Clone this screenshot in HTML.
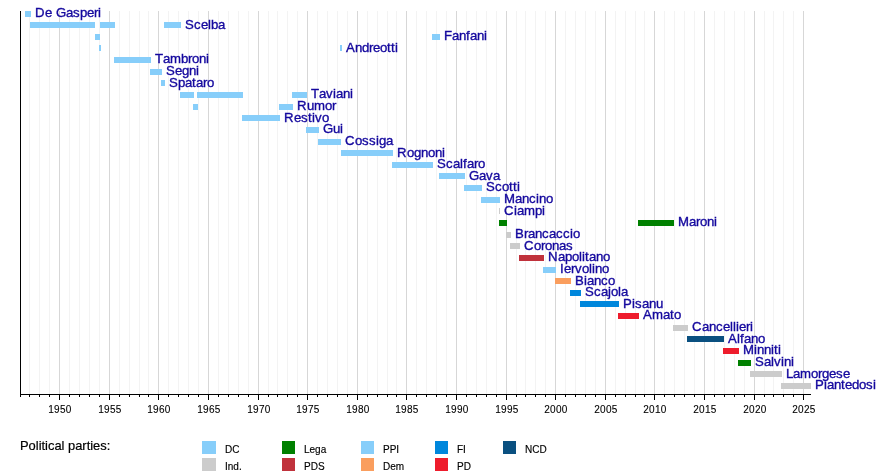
<!DOCTYPE html>
<html lang="it"><head><meta charset="utf-8"><title>Timeline</title>
<style>html,body{margin:0;padding:0;background:#fff}svg{display:block;will-change:transform}</style></head>
<body>
<svg width="890" height="474" viewBox="0 0 890 474">
<rect width="890" height="474" fill="#fff"/>
<g shape-rendering="crispEdges">
<rect x="29" y="11" width="1" height="383" fill="#f3f3f3"/>
<rect x="39" y="11" width="1" height="383" fill="#f3f3f3"/>
<rect x="49" y="11" width="1" height="383" fill="#f3f3f3"/>
<rect x="59" y="11" width="1" height="383" fill="#d7d7d7"/>
<rect x="69" y="11" width="1" height="383" fill="#f3f3f3"/>
<rect x="79" y="11" width="1" height="383" fill="#f3f3f3"/>
<rect x="89" y="11" width="1" height="383" fill="#f3f3f3"/>
<rect x="99" y="11" width="1" height="383" fill="#f3f3f3"/>
<rect x="109" y="11" width="1" height="383" fill="#d7d7d7"/>
<rect x="119" y="11" width="1" height="383" fill="#f3f3f3"/>
<rect x="129" y="11" width="1" height="383" fill="#f3f3f3"/>
<rect x="139" y="11" width="1" height="383" fill="#f3f3f3"/>
<rect x="148" y="11" width="1" height="383" fill="#f3f3f3"/>
<rect x="158" y="11" width="1" height="383" fill="#d7d7d7"/>
<rect x="168" y="11" width="1" height="383" fill="#f3f3f3"/>
<rect x="178" y="11" width="1" height="383" fill="#f3f3f3"/>
<rect x="188" y="11" width="1" height="383" fill="#f3f3f3"/>
<rect x="198" y="11" width="1" height="383" fill="#f3f3f3"/>
<rect x="208" y="11" width="1" height="383" fill="#d7d7d7"/>
<rect x="218" y="11" width="1" height="383" fill="#f3f3f3"/>
<rect x="228" y="11" width="1" height="383" fill="#f3f3f3"/>
<rect x="238" y="11" width="1" height="383" fill="#f3f3f3"/>
<rect x="248" y="11" width="1" height="383" fill="#f3f3f3"/>
<rect x="258" y="11" width="1" height="383" fill="#d7d7d7"/>
<rect x="268" y="11" width="1" height="383" fill="#f3f3f3"/>
<rect x="277" y="11" width="1" height="383" fill="#f3f3f3"/>
<rect x="287" y="11" width="1" height="383" fill="#f3f3f3"/>
<rect x="297" y="11" width="1" height="383" fill="#f3f3f3"/>
<rect x="307" y="11" width="1" height="383" fill="#d7d7d7"/>
<rect x="317" y="11" width="1" height="383" fill="#f3f3f3"/>
<rect x="327" y="11" width="1" height="383" fill="#f3f3f3"/>
<rect x="337" y="11" width="1" height="383" fill="#f3f3f3"/>
<rect x="347" y="11" width="1" height="383" fill="#f3f3f3"/>
<rect x="357" y="11" width="1" height="383" fill="#d7d7d7"/>
<rect x="367" y="11" width="1" height="383" fill="#f3f3f3"/>
<rect x="377" y="11" width="1" height="383" fill="#f3f3f3"/>
<rect x="387" y="11" width="1" height="383" fill="#f3f3f3"/>
<rect x="396" y="11" width="1" height="383" fill="#f3f3f3"/>
<rect x="406" y="11" width="1" height="383" fill="#d7d7d7"/>
<rect x="416" y="11" width="1" height="383" fill="#f3f3f3"/>
<rect x="426" y="11" width="1" height="383" fill="#f3f3f3"/>
<rect x="436" y="11" width="1" height="383" fill="#f3f3f3"/>
<rect x="446" y="11" width="1" height="383" fill="#f3f3f3"/>
<rect x="456" y="11" width="1" height="383" fill="#d7d7d7"/>
<rect x="466" y="11" width="1" height="383" fill="#f3f3f3"/>
<rect x="476" y="11" width="1" height="383" fill="#f3f3f3"/>
<rect x="486" y="11" width="1" height="383" fill="#f3f3f3"/>
<rect x="496" y="11" width="1" height="383" fill="#f3f3f3"/>
<rect x="506" y="11" width="1" height="383" fill="#d7d7d7"/>
<rect x="516" y="11" width="1" height="383" fill="#f3f3f3"/>
<rect x="525" y="11" width="1" height="383" fill="#f3f3f3"/>
<rect x="535" y="11" width="1" height="383" fill="#f3f3f3"/>
<rect x="545" y="11" width="1" height="383" fill="#f3f3f3"/>
<rect x="555" y="11" width="1" height="383" fill="#d7d7d7"/>
<rect x="565" y="11" width="1" height="383" fill="#f3f3f3"/>
<rect x="575" y="11" width="1" height="383" fill="#f3f3f3"/>
<rect x="585" y="11" width="1" height="383" fill="#f3f3f3"/>
<rect x="595" y="11" width="1" height="383" fill="#f3f3f3"/>
<rect x="605" y="11" width="1" height="383" fill="#d7d7d7"/>
<rect x="615" y="11" width="1" height="383" fill="#f3f3f3"/>
<rect x="625" y="11" width="1" height="383" fill="#f3f3f3"/>
<rect x="635" y="11" width="1" height="383" fill="#f3f3f3"/>
<rect x="644" y="11" width="1" height="383" fill="#f3f3f3"/>
<rect x="654" y="11" width="1" height="383" fill="#d7d7d7"/>
<rect x="664" y="11" width="1" height="383" fill="#f3f3f3"/>
<rect x="674" y="11" width="1" height="383" fill="#f3f3f3"/>
<rect x="684" y="11" width="1" height="383" fill="#f3f3f3"/>
<rect x="694" y="11" width="1" height="383" fill="#f3f3f3"/>
<rect x="704" y="11" width="1" height="383" fill="#d7d7d7"/>
<rect x="714" y="11" width="1" height="383" fill="#f3f3f3"/>
<rect x="724" y="11" width="1" height="383" fill="#f3f3f3"/>
<rect x="734" y="11" width="1" height="383" fill="#f3f3f3"/>
<rect x="744" y="11" width="1" height="383" fill="#f3f3f3"/>
<rect x="754" y="11" width="1" height="383" fill="#d7d7d7"/>
<rect x="764" y="11" width="1" height="383" fill="#f3f3f3"/>
<rect x="773" y="11" width="1" height="383" fill="#f3f3f3"/>
<rect x="783" y="11" width="1" height="383" fill="#f3f3f3"/>
<rect x="793" y="11" width="1" height="383" fill="#f3f3f3"/>
<rect x="803" y="11" width="1" height="383" fill="#d7d7d7"/>
</g>
<g shape-rendering="crispEdges">
<rect x="25" y="11" width="6" height="6" fill="#87cefa"/>
<rect x="30" y="22" width="65" height="6" fill="#87cefa"/>
<rect x="100" y="22" width="15" height="6" fill="#87cefa"/>
<rect x="164" y="22" width="17" height="6" fill="#87cefa"/>
<rect x="95" y="34" width="5" height="6" fill="#87cefa"/>
<rect x="432" y="34" width="8" height="6" fill="#87cefa"/>
<rect x="99" y="45" width="1.5999999999999943" height="6" fill="#87cefa"/>
<rect x="340" y="45" width="2" height="6" fill="#87cefa"/>
<rect x="114" y="57" width="37" height="6" fill="#87cefa"/>
<rect x="150" y="69" width="12" height="6" fill="#87cefa"/>
<rect x="161" y="80" width="4" height="6" fill="#87cefa"/>
<rect x="180" y="92" width="14" height="6" fill="#87cefa"/>
<rect x="197" y="92" width="46" height="6" fill="#87cefa"/>
<rect x="292" y="92" width="15" height="6" fill="#87cefa"/>
<rect x="193" y="104" width="5" height="6" fill="#87cefa"/>
<rect x="279" y="104" width="14" height="6" fill="#87cefa"/>
<rect x="242" y="115" width="38" height="6" fill="#87cefa"/>
<rect x="306" y="127" width="13" height="6" fill="#87cefa"/>
<rect x="318" y="139" width="23" height="6" fill="#87cefa"/>
<rect x="341" y="150" width="52" height="6" fill="#87cefa"/>
<rect x="392" y="162" width="41" height="6" fill="#87cefa"/>
<rect x="439" y="173" width="26" height="6" fill="#87cefa"/>
<rect x="464" y="185" width="18" height="6" fill="#87cefa"/>
<rect x="481" y="197" width="19" height="6" fill="#87cefa"/>
<rect x="499" y="208" width="1" height="6" fill="#cccccc"/>
<rect x="499" y="220" width="8" height="6" fill="#008000"/>
<rect x="638" y="220" width="36" height="6" fill="#008000"/>
<rect x="506" y="232" width="5" height="6" fill="#cccccc"/>
<rect x="510" y="243" width="10" height="6" fill="#cccccc"/>
<rect x="519" y="255" width="25" height="6" fill="#c0323c"/>
<rect x="543" y="267" width="13" height="6" fill="#87cefa"/>
<rect x="555" y="278" width="16" height="6" fill="#fa9e5e"/>
<rect x="570" y="290" width="11" height="6" fill="#0087dc"/>
<rect x="580" y="301" width="39" height="6" fill="#0087dc"/>
<rect x="618" y="313" width="21" height="6" fill="#ee1c2c"/>
<rect x="673" y="325" width="15" height="6" fill="#cccccc"/>
<rect x="687" y="336" width="37" height="6" fill="#0a5080"/>
<rect x="723" y="348" width="16" height="6" fill="#ee1c2c"/>
<rect x="738" y="360" width="13" height="6" fill="#008000"/>
<rect x="750" y="371" width="32" height="6" fill="#cccccc"/>
<rect x="781" y="383" width="30" height="6" fill="#cccccc"/>
</g>
<g font-family="'Liberation Sans', Arial, Helvetica, sans-serif" font-size="13.2" fill="#14089e" stroke="#14089e" stroke-width="0.35">
<text x="35 45 52 56 66 73 80 87 94 98" y="16.90">De Gasperi</text>
<text x="185 194 201 208 211 218" y="28.54">Scelba</text>
<text x="444 452 459 466 470 477 484" y="40.17">Fanfani</text>
<text x="346 355 362 369 373 380 387 391 395" y="51.81">Andreotti</text>
<text x="155 163 170 181 188 192 199 206" y="63.45">Tambroni</text>
<text x="166 175 182 189 196" y="75.08">Segni</text>
<text x="169 178 185 192 196 203 207" y="86.72">Spataro</text>
<text x="311 319 326 333 336 343 350" y="98.35">Taviani</text>
<text x="297 307 314 325 332" y="109.99">Rumor</text>
<text x="284 294 301 308 312 315 322" y="121.63">Restivo</text>
<text x="323 333 340" y="133.26">Gui</text>
<text x="345 355 362 369 376 379 386" y="144.90">Cossiga</text>
<text x="397 407 414 421 428 435 442" y="156.54">Rognoni</text>
<text x="437 446 453 460 463 467 474 478" y="168.17">Scalfaro</text>
<text x="469 479 486 493" y="179.81">Gava</text>
<text x="486 495 502 509 513 517" y="191.45">Scotti</text>
<text x="504 515 522 529 536 539 546" y="203.08">Mancino</text>
<text x="504 514 517 524 535 542" y="214.72">Ciampi</text>
<text x="678 689 696 700 707 714" y="226.35">Maroni</text>
<text x="515 524 528 535 542 549 556 563 570 573" y="237.99">Brancaccio</text>
<text x="524 534 541 545 552 559 566" y="249.63">Coronas</text>
<text x="548 558 565 572 579 582 585 589 596 603" y="261.26">Napolitano</text>
<text x="560 564 571 575 582 589 592 595 602" y="272.90">Iervolino</text>
<text x="575 584 587 594 601 608" y="284.54">Bianco</text>
<text x="585 594 601 608 611 618 621" y="296.17">Scajola</text>
<text x="623 632 635 642 649 656" y="307.81">Pisanu</text>
<text x="643 652 663 670 674" y="319.45">Amato</text>
<text x="692 702 709 716 723 730 733 736 739 746 750" y="331.08">Cancellieri</text>
<text x="728 737 740 744 751 758" y="342.72">Alfano</text>
<text x="743 754 757 764 771 774 778" y="354.35">Minniti</text>
<text x="755 764 771 774 781 784 791" y="365.99">Salvini</text>
<text x="786 793 800 811 818 822 829 836 843" y="377.63">Lamorgese</text>
<text x="815 824 827 834 841 845 852 859 866 873" y="389.26">Piantedosi</text>
</g>
<g shape-rendering="crispEdges" fill="#000">
<rect x="20" y="11" width="1" height="384"/>
<rect x="20" y="394" width="791" height="1"/>
<rect x="20" y="394" width="1" height="3"/>
<rect x="29" y="394" width="1" height="3"/>
<rect x="39" y="394" width="1" height="3"/>
<rect x="49" y="394" width="1" height="3"/>
<rect x="59" y="394" width="1" height="6"/>
<rect x="69" y="394" width="1" height="3"/>
<rect x="79" y="394" width="1" height="3"/>
<rect x="89" y="394" width="1" height="3"/>
<rect x="99" y="394" width="1" height="3"/>
<rect x="109" y="394" width="1" height="6"/>
<rect x="119" y="394" width="1" height="3"/>
<rect x="129" y="394" width="1" height="3"/>
<rect x="139" y="394" width="1" height="3"/>
<rect x="148" y="394" width="1" height="3"/>
<rect x="158" y="394" width="1" height="6"/>
<rect x="168" y="394" width="1" height="3"/>
<rect x="178" y="394" width="1" height="3"/>
<rect x="188" y="394" width="1" height="3"/>
<rect x="198" y="394" width="1" height="3"/>
<rect x="208" y="394" width="1" height="6"/>
<rect x="218" y="394" width="1" height="3"/>
<rect x="228" y="394" width="1" height="3"/>
<rect x="238" y="394" width="1" height="3"/>
<rect x="248" y="394" width="1" height="3"/>
<rect x="258" y="394" width="1" height="6"/>
<rect x="268" y="394" width="1" height="3"/>
<rect x="277" y="394" width="1" height="3"/>
<rect x="287" y="394" width="1" height="3"/>
<rect x="297" y="394" width="1" height="3"/>
<rect x="307" y="394" width="1" height="6"/>
<rect x="317" y="394" width="1" height="3"/>
<rect x="327" y="394" width="1" height="3"/>
<rect x="337" y="394" width="1" height="3"/>
<rect x="347" y="394" width="1" height="3"/>
<rect x="357" y="394" width="1" height="6"/>
<rect x="367" y="394" width="1" height="3"/>
<rect x="377" y="394" width="1" height="3"/>
<rect x="387" y="394" width="1" height="3"/>
<rect x="396" y="394" width="1" height="3"/>
<rect x="406" y="394" width="1" height="6"/>
<rect x="416" y="394" width="1" height="3"/>
<rect x="426" y="394" width="1" height="3"/>
<rect x="436" y="394" width="1" height="3"/>
<rect x="446" y="394" width="1" height="3"/>
<rect x="456" y="394" width="1" height="6"/>
<rect x="466" y="394" width="1" height="3"/>
<rect x="476" y="394" width="1" height="3"/>
<rect x="486" y="394" width="1" height="3"/>
<rect x="496" y="394" width="1" height="3"/>
<rect x="506" y="394" width="1" height="6"/>
<rect x="516" y="394" width="1" height="3"/>
<rect x="525" y="394" width="1" height="3"/>
<rect x="535" y="394" width="1" height="3"/>
<rect x="545" y="394" width="1" height="3"/>
<rect x="555" y="394" width="1" height="6"/>
<rect x="565" y="394" width="1" height="3"/>
<rect x="575" y="394" width="1" height="3"/>
<rect x="585" y="394" width="1" height="3"/>
<rect x="595" y="394" width="1" height="3"/>
<rect x="605" y="394" width="1" height="6"/>
<rect x="615" y="394" width="1" height="3"/>
<rect x="625" y="394" width="1" height="3"/>
<rect x="635" y="394" width="1" height="3"/>
<rect x="644" y="394" width="1" height="3"/>
<rect x="654" y="394" width="1" height="6"/>
<rect x="664" y="394" width="1" height="3"/>
<rect x="674" y="394" width="1" height="3"/>
<rect x="684" y="394" width="1" height="3"/>
<rect x="694" y="394" width="1" height="3"/>
<rect x="704" y="394" width="1" height="6"/>
<rect x="714" y="394" width="1" height="3"/>
<rect x="724" y="394" width="1" height="3"/>
<rect x="734" y="394" width="1" height="3"/>
<rect x="744" y="394" width="1" height="3"/>
<rect x="754" y="394" width="1" height="6"/>
<rect x="764" y="394" width="1" height="3"/>
<rect x="773" y="394" width="1" height="3"/>
<rect x="783" y="394" width="1" height="3"/>
<rect x="793" y="394" width="1" height="3"/>
<rect x="803" y="394" width="1" height="6"/>
</g>
<g font-family="'Liberation Sans', Arial, Helvetica, sans-serif" font-size="10" fill="#000" stroke="#000" stroke-width="0.1" text-anchor="middle" letter-spacing="0.3">
<text x="59.90" y="412.5">1950</text>
<text x="109.90" y="412.5">1955</text>
<text x="158.90" y="412.5">1960</text>
<text x="208.90" y="412.5">1965</text>
<text x="258.90" y="412.5">1970</text>
<text x="307.90" y="412.5">1975</text>
<text x="357.90" y="412.5">1980</text>
<text x="406.90" y="412.5">1985</text>
<text x="456.90" y="412.5">1990</text>
<text x="506.90" y="412.5">1995</text>
<text x="555.90" y="412.5">2000</text>
<text x="605.90" y="412.5">2005</text>
<text x="654.90" y="412.5">2010</text>
<text x="704.90" y="412.5">2015</text>
<text x="754.90" y="412.5">2020</text>
<text x="803.90" y="412.5">2025</text>
</g>
<text x="20" y="449.8" font-family="'Liberation Sans', Arial, Helvetica, sans-serif" font-size="12.9" fill="#000" stroke="#000" stroke-width="0.2">Political parties:</text>
<g font-family="'Liberation Sans', Arial, Helvetica, sans-serif" font-size="10" fill="#000" stroke="#000" stroke-width="0.15">
<rect x="202" y="441" width="14" height="13" fill="#87cefa" stroke="none" shape-rendering="crispEdges"/>
<text x="225" y="452.9">DC</text>
<rect x="202" y="458" width="14" height="13" fill="#cccccc" stroke="none" shape-rendering="crispEdges"/>
<text x="225" y="469.9">Ind.</text>
<rect x="282" y="441" width="13" height="13" fill="#008000" stroke="none" shape-rendering="crispEdges"/>
<text x="304" y="452.9">Lega</text>
<rect x="282" y="458" width="13" height="13" fill="#c0323c" stroke="none" shape-rendering="crispEdges"/>
<text x="304" y="469.9">PDS</text>
<rect x="361" y="441" width="13" height="13" fill="#87cefa" stroke="none" shape-rendering="crispEdges"/>
<text x="383" y="452.9">PPI</text>
<rect x="361" y="458" width="13" height="13" fill="#fa9e5e" stroke="none" shape-rendering="crispEdges"/>
<text x="383" y="469.9">Dem</text>
<rect x="435" y="441" width="13" height="13" fill="#0087dc" stroke="none" shape-rendering="crispEdges"/>
<text x="457" y="452.9">FI</text>
<rect x="435" y="458" width="13" height="13" fill="#ee1c2c" stroke="none" shape-rendering="crispEdges"/>
<text x="457" y="469.9">PD</text>
<rect x="503" y="441" width="13" height="13" fill="#0a5080" stroke="none" shape-rendering="crispEdges"/>
<text x="525" y="452.9">NCD</text>
</g>
</svg>
</body></html>
